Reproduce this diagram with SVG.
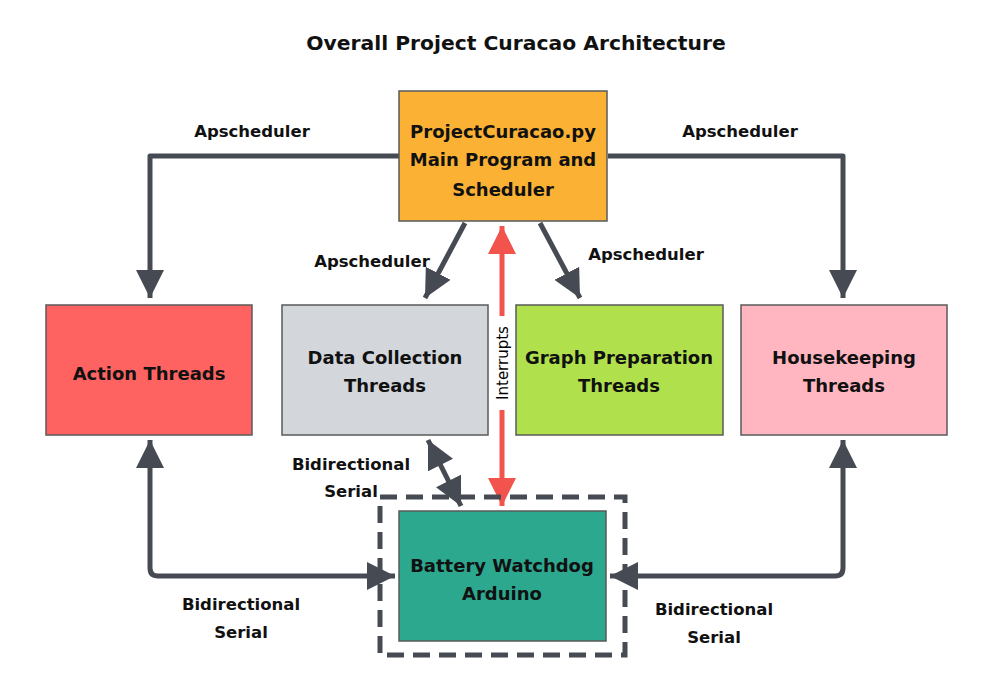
<svg xmlns="http://www.w3.org/2000/svg" width="1000" height="687" viewBox="0 0 1000 687">
<defs>
<marker id="ah" viewBox="0 0 10 10" refX="10" refY="5" markerWidth="5.6" markerHeight="5.6" markerUnits="strokeWidth" orient="auto-start-reverse">
<path d="M0,0 L10,5 L0,10 z" fill="#464a52"/>
</marker>
<marker id="ahr" viewBox="0 0 10 10" refX="10" refY="5" markerWidth="5.6" markerHeight="5.6" markerUnits="strokeWidth" orient="auto-start-reverse">
<path d="M0,0 L10,5 L0,10 z" fill="#f2544d"/>
</marker>
</defs>
<style>
.n{stroke:#5a5a5a;stroke-width:1.5}
.t{font-family:"DejaVu Sans",sans-serif;font-weight:bold;font-size:18px;fill:#111;text-anchor:middle}
.l{font-family:"DejaVu Sans",sans-serif;font-weight:bold;font-size:16.5px;fill:#111;text-anchor:middle}
.c{fill:none;stroke:#464a52;stroke-width:5;stroke-linejoin:round}
</style>
<rect width="1000" height="687" fill="#ffffff"/>
<text x="516" y="50" class="t" style="font-size:20.3px">Overall Project Curacao Architecture</text>

<g id="connectors">
<path class="c" d="M399,156 H150 V298" marker-end="url(#ah)"/>
<path class="c" d="M608,156 H843 V298" marker-end="url(#ah)"/>
<path class="c" d="M465,223 L425,298" marker-end="url(#ah)"/>
<path class="c" d="M540,223 L580,298" marker-end="url(#ah)"/>
<path class="c" d="M428,440 L461,506" marker-start="url(#ah)" marker-end="url(#ah)"/>
<path class="c" d="M150,440 V568 Q150,576 158,576 H395" marker-start="url(#ah)" marker-end="url(#ah)"/>
<path class="c" d="M843,440 V568 Q843,576 835,576 H610" marker-start="url(#ah)" marker-end="url(#ah)"/>
<path d="M502,226 V506" fill="none" stroke="#f2544d" stroke-width="5" marker-start="url(#ahr)" marker-end="url(#ahr)"/>
<rect x="494" y="316" width="16" height="94" fill="#ffffff"/>
<text x="0" y="0" class="l" style="font-size:15px;font-weight:normal;fill:#000" transform="translate(508,363) rotate(-90)">Interrupts</text>
<text x="252" y="137" class="l">Apscheduler</text>
<text x="740" y="137" class="l">Apscheduler</text>
<text x="372" y="267" class="l">Apscheduler</text>
<text x="646" y="260" class="l">Apscheduler</text>
<text x="351" y="470" class="l">Bidirectional</text>
<text x="351" y="497" class="l">Serial</text>
<text x="241" y="610" class="l">Bidirectional</text>
<text x="241" y="638" class="l">Serial</text>
<text x="714" y="615" class="l">Bidirectional</text>
<text x="714" y="643" class="l">Serial</text>
</g>

<g id="main">
<rect class="n" x="399" y="91" width="208" height="130" fill="#fbb234"/>
<text class="t" x="503" y="138">ProjectCuracao.py</text>
<text class="t" x="503" y="166">Main Program and</text>
<text class="t" x="503" y="196">Scheduler</text>
</g>
<g id="action">
<rect class="n" x="46" y="305" width="206" height="130" fill="#ff6361"/>
<text class="t" x="149" y="380">Action Threads</text>
</g>
<g id="datacollection">
<rect class="n" x="282" y="305" width="206" height="130" fill="#d3d6db"/>
<text class="t" x="385" y="364">Data Collection</text>
<text class="t" x="385" y="392">Threads</text>
</g>
<g id="graphprep">
<rect class="n" x="516" y="305" width="207" height="130" fill="#b0e14c"/>
<text class="t" x="619" y="364">Graph Preparation</text>
<text class="t" x="619" y="392">Threads</text>
</g>
<g id="housekeeping">
<rect class="n" x="741" y="305" width="206" height="130" fill="#ffb6c1"/>
<text class="t" x="844" y="364">Housekeeping</text>
<text class="t" x="844" y="392">Threads</text>
</g>
<g id="battery">
<rect x="380" y="497" width="245" height="158" fill="none" stroke="#464a52" stroke-width="5" stroke-dasharray="17,9"/>
<rect class="n" x="399" y="511" width="207" height="130" fill="#2ca88f"/>
<text class="t" x="502" y="572">Battery Watchdog</text>
<text class="t" x="502" y="600">Arduino</text>
</g>
</svg>
